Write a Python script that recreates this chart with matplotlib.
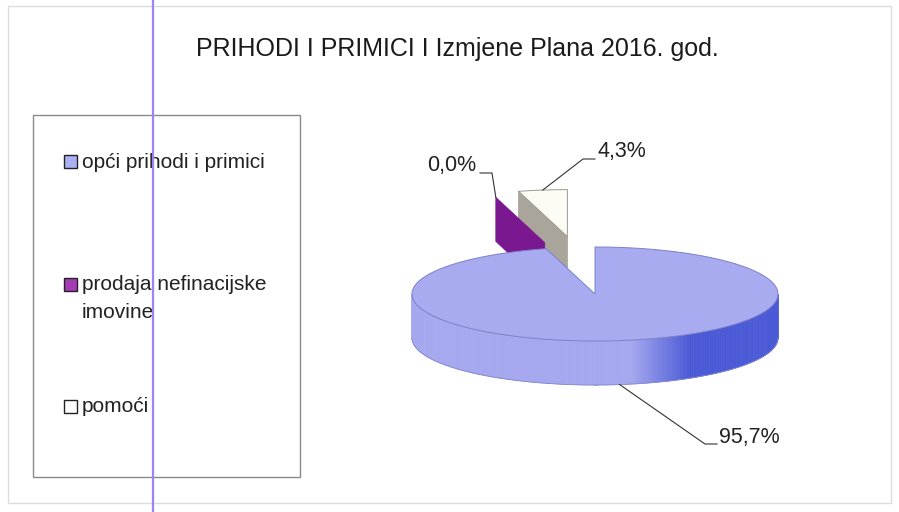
import numpy as np
import matplotlib
matplotlib.use("Agg")
import matplotlib.pyplot as plt
from matplotlib.patches import Polygon, Rectangle
from matplotlib.colors import to_rgb

# ---------------- data ----------------
title = "PRIHODI I PRIMICI I Izmjene Plana 2016. god."
categories = ["opći prihodi i primici", "prodaja nefinacijske\nimovine", "pomoći"]
values = [95.7, 0.0, 4.3]
value_labels = ["95,7%", "0,0%", "4,3%"]

# ---------------- style ----------------
top_colors = ["#a8abf0", "#7a1890", "#fcfcf4"]
face_colors = ["#8e92e4", "#7a1890", "#a9a59b"]
side_light = ["#a5a8ee", "#7a1890", "#e8e8e0"]
side_dark = ["#4a5ad6", "#5a1070", "#b0b0a8"]
legend_colors = ["#aab0f2", "#a53cb6", "#ffffff"]
explode = [0.0, 1.03, 1.12]

plt.rcParams['font.family'] = ['Liberation Sans', 'DejaVu Sans']

fig = plt.figure(figsize=(8.99, 5.12), dpi=100)
fig.patch.set_facecolor("white")
ax = fig.add_axes([0, 0, 1, 1])
ax.set_xlim(0, 899)
ax.set_ylim(512, 0)
ax.axis('off')

CX, CY, RX, RY, DEPTH = 595, 294, 183, 47, 44
KY = 1.1


def pt(t_deg, ox, oy, dz=0.0):
    t = np.radians(t_deg)
    return ox + RX * np.cos(t), oy - RY * np.sin(t) + dz


total = float(sum(values))
slices = []
start = 90.0
for i, v in enumerate(values):
    sweep = 360.0 * v / total
    a1, a2 = start - sweep, start
    start -= sweep
    while a1 < 90.0 - 1e-9:
        a1 += 360.0
        a2 += 360.0
    mid = 0.5 * (a1 + a2)
    e = explode[i]
    ox = CX + e * RX * np.cos(np.radians(mid))
    oy = CY - e * RY * KY * np.sin(np.radians(mid))
    slices.append(dict(i=i, a1=a1, a2=a2, mid=mid, ox=ox, oy=oy))

zo = 2
for s in sorted(slices, key=lambda d: d['oy']):
    i, a1, a2, ox, oy = s['i'], s['a1'], s['a2'], s['ox'], s['oy']
    # radial faces facing the viewer
    for ang, visible in ((a1, np.cos(np.radians(a1)) > 1e-6),
                         (a2, np.cos(np.radians(a2)) < -1e-6)):
        if visible:
            r_top = pt(ang, ox, oy)
            quad = [(ox, oy), r_top, (r_top[0], r_top[1] + DEPTH), (ox, oy + DEPTH)]
            ax.add_patch(Polygon(quad, closed=True, facecolor=face_colors[i],
                                 edgecolor=face_colors[i], lw=0.6, zorder=zo))
            zo += 1
    # outer wall (front half only), shaded
    for k in range(-1, 3):
        lo = max(a1, 180 + 360 * k)
        hi = min(a2, 360 + 360 * k)
        if hi > lo:
            ts = np.linspace(lo, hi, 180)
            lc, dc = np.array(to_rgb(side_light[i])), np.array(to_rgb(side_dark[i]))
            for t0, t1 in zip(ts[:-1], ts[1:]):
                tm = np.radians(0.5 * (t0 + t1))
                f = np.clip((np.cos(tm) - 0.2) / 0.32, 0, 1)
                col = lc * (1 - f) + dc * f
                p0, p1 = pt(t0, ox, oy), pt(t1, ox, oy)
                poly = [p0, p1, (p1[0], p1[1] + DEPTH), (p0[0], p0[1] + DEPTH)]
                ax.add_patch(Polygon(poly, closed=True, facecolor=col,
                                     edgecolor=col, lw=0.5, zorder=zo))
            zo += 1
            bx, by = pt(ts, ox, oy, DEPTH)
            ax.plot(bx, by, color="#8488cc", lw=0.6, zorder=zo)
            zo += 1
    # top face
    if a2 - a1 > 1e-6:
        ts = np.linspace(a1, a2, 300)
        xs, ys = pt(ts, ox, oy)
        poly = [(ox, oy)] + list(zip(xs, ys))
        edge = "#7c80c8" if i == 0 else "#9a9a90"
        ax.add_patch(Polygon(poly, closed=True, facecolor=top_colors[i],
                             edgecolor=edge, lw=0.7, zorder=zo))
        zo += 1

# ---------------- data labels with leader lines ----------------
lab_pos = {0: (719, 437, 'left'), 1: (476, 166, 'right'), 2: (597, 152, 'left')}
for s in slices:
    i = s['i']
    if i == 0:
        px, py = pt(s['mid'], s['ox'], s['oy'], DEPTH)
    else:
        px, py = pt(s['mid'], s['ox'], s['oy'])
    tx, ty, ha = lab_pos[i]
    if ha == 'left':
        xs_ = [px, tx - 14, tx - 2]
    else:
        xs_ = [px, tx + 16, tx + 4]
    ax.plot(xs_, [py, ty + 7, ty + 7], color="#333333", lw=0.8, zorder=50)
    ax.text(tx, ty, value_labels[i], ha=ha, va='center', fontsize=15.5,
            color="#222222", zorder=51)

# ---------------- title ----------------
ax.text(457, 49, title, ha='center', va='center', fontsize=18, color="#1a1a1a")

# ---------------- legend ----------------
ax.add_patch(Rectangle((33, 115), 267, 362, facecolor="none", edgecolor="#8a8a8a",
                       lw=1.0, zorder=5))
leg_y = [162, 285, 407]
for i, cat in enumerate(categories):
    y = leg_y[i]
    ax.add_patch(Rectangle((64, y - 7), 13, 13, facecolor=legend_colors[i],
                           edgecolor="#222222", lw=1.0, zorder=6))
    for j, line in enumerate(cat.split("\n")):
        ax.text(82, y + 28 * j, line, ha='left', va='center', fontsize=15,
                color="#222222", zorder=6)

# ---------------- scan frame & artefact ----------------
ax.add_patch(Rectangle((8, 6), 883, 497, facecolor="none", edgecolor="#dddddd",
                       lw=1.0, zorder=1))
ax.plot([153, 153], [0, 512], color="#9f86ee", lw=1.6, zorder=60)

fig.savefig("out.png", dpi=100, facecolor="white")
